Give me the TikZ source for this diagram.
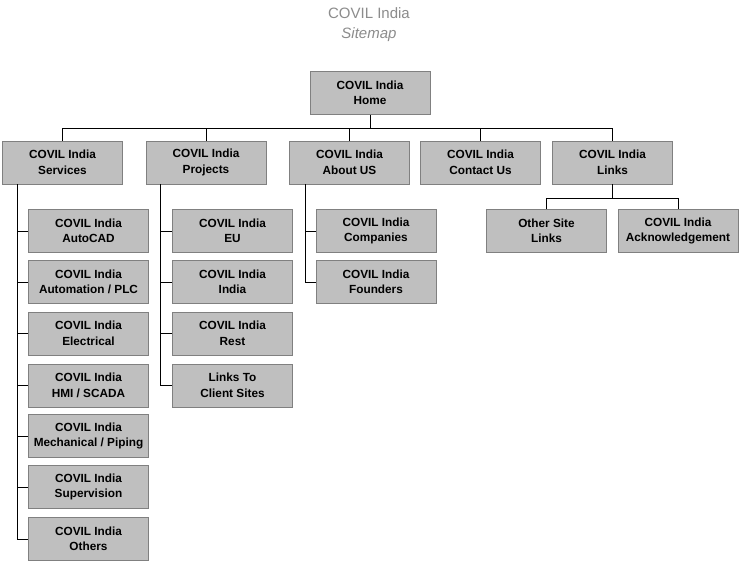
\documentclass[tikz,border=0pt]{standalone}
\usepackage{fontspec}
\setmainfont{Liberation Sans}
\begin{document}
\begin{tikzpicture}[x=1pt,y=-1pt,
  pagebox/.style={draw=black!50, line width=0.8pt, fill=black!25, minimum width=120pt, minimum height=43pt,
    inner sep=0pt, align=center, font=\fontsize{11.8}{15.5}\selectfont\bfseries, text=black},
  conn/.style={draw=black, line width=0.8pt},
  titletext/.style={text=black!45, font=\fontsize{15}{18}\selectfont}]
\useasboundingbox[fill=white] (0,0) rectangle (739,562);
\node[titletext, anchor=base] (t1) at (369,19) {COVIL India};
\node[titletext, anchor=base, font=\fontsize{15}{18}\selectfont\itshape] (t2) at (369,38) {Sitemap};

\node[pagebox] (home) at (370,93) {COVIL India\\Home};

\node[pagebox] (services) at (62.5,162.5) {COVIL India\\Services};
\node[pagebox] (projects) at (206,162.5) {COVIL India\\Projects};
\node[pagebox] (about) at (349.5,162.5) {COVIL India\\About US};
\node[pagebox] (contact) at (480.5,162.5) {COVIL India\\Contact Us};
\node[pagebox] (links) at (612.5,162.5) {COVIL India\\Links};

\node[pagebox] (autocad) at (88.5,231) {COVIL India\\AutoCAD};
\node[pagebox] (automation) at (88.5,282) {COVIL India\\Automation / PLC};
\node[pagebox] (electrical) at (88.5,333.5) {COVIL India\\Electrical};
\node[pagebox] (hmi) at (88.5,385.5) {COVIL India\\HMI / SCADA};
\node[pagebox] (mech) at (88.5,436) {COVIL India\\Mechanical / Piping};
\node[pagebox] (super) at (88.5,487) {COVIL India\\Supervision};
\node[pagebox] (others) at (88.5,539) {COVIL India\\Others};

\node[pagebox] (eu) at (232.5,231) {COVIL India\\EU};
\node[pagebox] (india) at (232.5,282) {COVIL India\\India};
\node[pagebox] (rest) at (232.5,333.5) {COVIL India\\Rest};
\node[pagebox] (client) at (232.5,385.5) {Links To\\Client Sites};

\node[pagebox] (companies) at (376,231) {COVIL India\\Companies};
\node[pagebox] (founders) at (376,282) {COVIL India\\Founders};

\node[pagebox] (othersite) at (546.5,231) {Other Site\\Links};
\node[pagebox] (ack) at (678,231) {COVIL India\\Acknowledgement};

% top bus
\coordinate (bus) at (370,128);
\draw[conn] (home.south) -- (bus);
\draw[conn] (services.north) |- (links.north |- bus) -- (links.north);
\draw[conn] (projects.north) -- (projects.north |- bus);
\draw[conn] (about.north) -- (about.north |- bus);
\draw[conn] (contact.north) -- (contact.north |- bus);

% links bus
\coordinate (lbus) at (612.5,198);
\draw[conn] (links.south) -- (lbus);
\draw[conn] (othersite.north) |- (ack.north |- lbus) -- (ack.north);

% services column
\coordinate (sv) at (17,0);
\draw[conn] (services.south -| sv) -- (sv |- others.west) -- (others.west);
\foreach \c in {autocad,automation,electrical,hmi,mech,super}
  \draw[conn] (\c.west -| sv) -- (\c.west);

% projects column
\coordinate (pv) at (160,0);
\draw[conn] (projects.south -| pv) -- (pv |- client.west) -- (client.west);
\foreach \c in {eu,india,rest}
  \draw[conn] (\c.west -| pv) -- (\c.west);

% about column
\coordinate (av) at (305,0);
\draw[conn] (about.south -| av) -- (av |- founders.west) -- (founders.west);
\draw[conn] (companies.west -| av) -- (companies.west);
\end{tikzpicture}
\end{document}
